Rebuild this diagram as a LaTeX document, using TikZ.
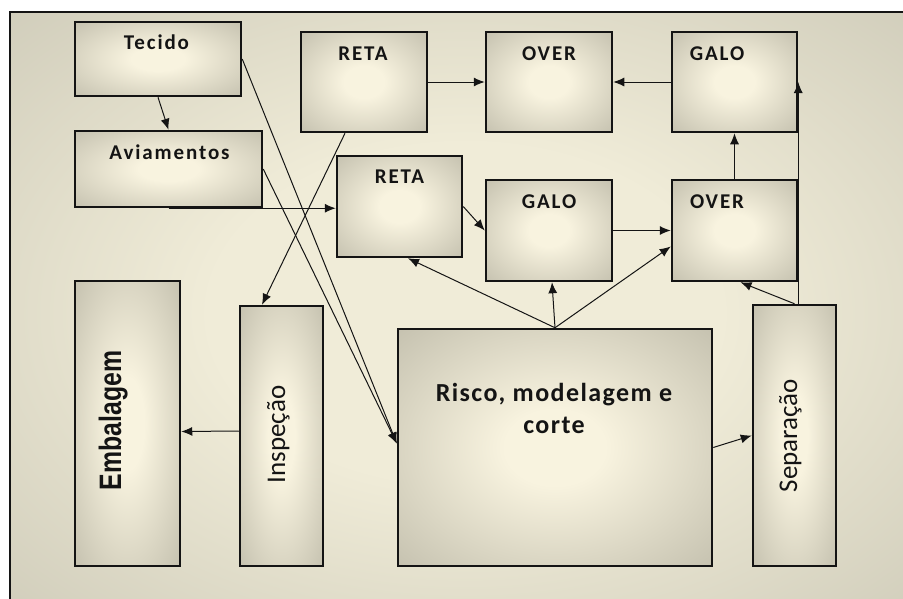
\documentclass[tikz,border=0pt]{standalone}
\usepackage{fontspec}
\setmainfont{Carlito}
\newfontfamily\arialfont{Liberation Sans}
\usetikzlibrary{arrows.meta}
\definecolor{boxlight}{HTML}{F8F3DF}
\definecolor{boxmid}{HTML}{ABA897}
\definecolor{boxdark}{HTML}{848176}
\definecolor{bglight}{HTML}{F0ECD8}
\definecolor{bgmid}{HTML}{BCB9A8}
\definecolor{bgdark}{HTML}{A09D8F}
\definecolor{ink}{HTML}{141414}
\pgfdeclareradialshading{boxshade}{\pgfpoint{0bp}{0bp}}{color(0bp)=(boxlight); color(8bp)=(boxlight); color(50bp)=(boxmid); color(71bp)=(boxdark)}
\pgfdeclareradialshading{bgshade}{\pgfpoint{0bp}{0bp}}{color(0bp)=(bglight); color(14bp)=(bglight); color(50bp)=(bgmid); color(71bp)=(bgdark)}

\begin{document}
\begin{tikzpicture}[x=1pt,y=-1pt,
        box/.style={draw=ink, line width=2.5pt, shade, shading=boxshade, inner sep=0pt},
        lab/.style={anchor=base, text=ink, font=\fontsize{21}{25}\selectfont\bfseries\addfontfeature{LetterSpace=9}},
        vlab/.style={anchor=base, rotate=90, text=ink, font=\fontsize{27}{32}\selectfont},
        flow/.style={draw=ink, line width=1pt, -{Latex[length=11pt,width=9pt]}}]
    \useasboundingbox (0,0) rectangle (903,598);
    \clip (0,0) rectangle (903,598);
    \draw[line width=2.5pt, draw=ink, shade, shading=bgshade] (10,12) rectangle (920,615);

    \node[box, minimum width=166pt, minimum height=74pt] (tecido) at (158,59) {};
    \node[box, minimum width=187pt, minimum height=76pt] (avia) at (168.5,169) {};
    \node[box, minimum width=126pt, minimum height=100pt] (reta1) at (364,82) {};
    \node[box, minimum width=126pt, minimum height=100pt] (over1) at (549,82) {};
    \node[box, minimum width=125pt, minimum height=100pt] (galo1) at (734.5,82) {};
    \node[box, minimum width=125pt, minimum height=101pt] (reta2) at (399.5,206.5) {};
    \node[box, minimum width=126pt, minimum height=101pt] (galo2) at (549,230.5) {};
    \node[box, minimum width=125pt, minimum height=101pt] (over2) at (734.5,230.5) {};
    \node[box, minimum width=105pt, minimum height=285pt] (emb) at (127.5,423.5) {};
    \node[box, minimum width=83pt, minimum height=260pt] (insp) at (281.5,436) {};
    \node[box, minimum width=314pt, minimum height=237pt] (risco) at (555,447.5) {};
    \node[box, minimum width=83pt, minimum height=261pt] (sep) at (794.5,435.5) {};

    \node[lab] (tecido-t) at ([xshift=-1.5pt,yshift=-29pt]tecido.north) {Tecido};
    \node[lab] (avia-t) at ([xshift=1pt,yshift=-30pt]avia.north) {Aviamentos};
    \node[lab] (reta1-t) at ([xshift=-1pt,yshift=-30pt]reta1.north) {RETA};
    \node[lab] (over1-t) at ([yshift=-30pt]over1.north) {OVER};
    \node[lab] (galo1-t) at ([xshift=-17.5pt,yshift=-30pt]galo1.north) {GALO};
    \node[lab] (reta2-t) at ([yshift=-29pt]reta2.north) {RETA};
    \node[lab] (galo2-t) at ([yshift=-30pt]galo2.north) {GALO};
    \node[lab] (over2-t) at ([xshift=-17.5pt,yshift=-30pt]over2.north) {OVER};
    \node[anchor=base, align=center, text=ink, font=\fontsize{26}{32}\selectfont\bfseries\addfontfeature{LetterSpace=5.5}] (risco-t) at (554,433) {Risco, modelagem e\\corte};
    \node[vlab, font=\arialfont\bfseries\fontsize{31}{36}\selectfont, xscale=0.8] (emb-t) at ([xshift=-6.5pt,yshift=3pt]emb.center) {Embalagem};
    \node[vlab] (insp-t) at ([xshift=3.5pt,yshift=1.5pt]insp.center) {Inspeção};
    \node[vlab] (sep-t) at ([xshift=2.5pt]sep.center) {Separação};

    \draw[flow] (tecido.south) -- (avia.north);
    \draw[flow] (avia.south) -- (avia.south -| reta2.west);
    \draw[flow] (tecido.east) -- ([yshift=4pt]risco.west);
    \draw[flow] (avia.east) -- ([yshift=4pt]risco.west);
    \draw[flow] ([xshift=-19pt]reta1.south) -- ([xshift=-19.5pt]insp.north);
    \draw[flow] (reta1.east) -- (over1.west);
    \draw[flow] (galo1.west) -- (over1.east);
    \draw[flow] (over2.north) -- (galo1.south);
    \draw[flow] (reta2.east) -- (galo2.west);
    \draw[flow] (galo2.east) -- (over2.west);
    \draw[flow] (risco.north) -- ([xshift=8.5pt]reta2.south);
    \draw[flow] (risco.north) -- ([xshift=3pt]galo2.south);
    \draw[flow] (risco.north) -- ([yshift=-16pt]over2.west);
    \draw[flow] (sep.north) -- ([xshift=6pt]over2.south);
    \draw[flow] (galo1.east |- sep.north) -- (galo1.east);
    \draw[flow] (risco.east) -- (sep.west);
    \draw[flow] ([yshift=5pt]insp.west) -- ([yshift=-8pt]emb.east);
\end{tikzpicture}
\end{document}
